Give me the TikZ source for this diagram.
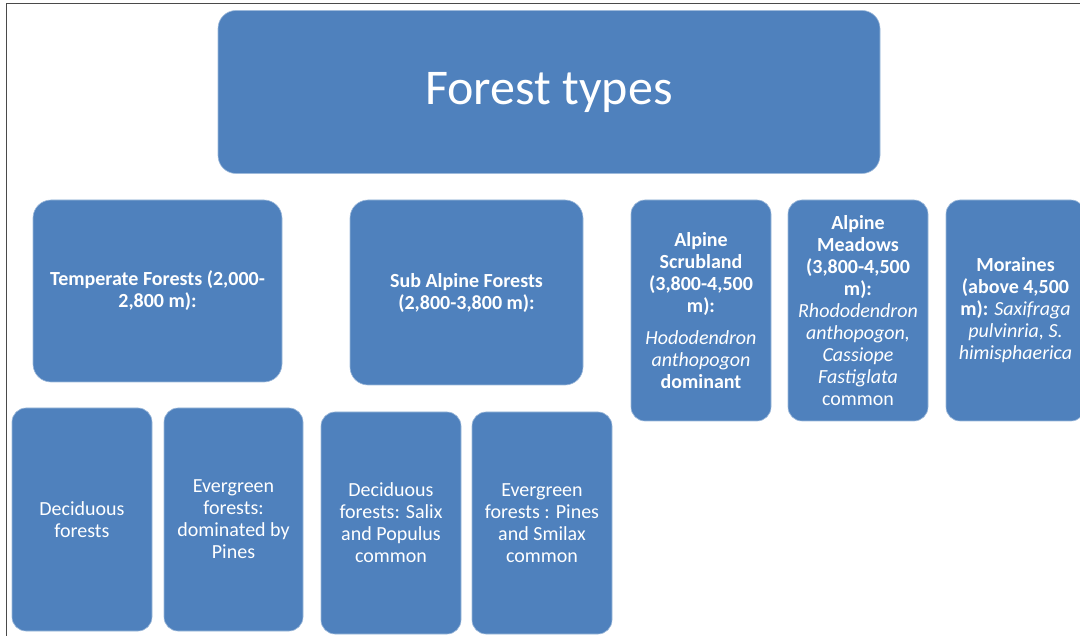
\documentclass[tikz,border=0pt]{standalone}
\usepackage{fontspec}
\setmainfont{Carlito}
\definecolor{boxblue}{HTML}{4F81BD}
\definecolor{frame}{HTML}{4A4A4A}
\begin{document}
\begin{tikzpicture}[x=1pt,y=-1pt,
  box/.style={draw=boxblue!55!white, line width=0.6pt, fill=boxblue,
    rounded corners=14pt, text=white, align=center, inner sep=0pt,
    font=\fontsize{20}{22}\selectfont},
  bigbox/.style={box, rounded corners=18pt}]
\useasboundingbox (0,0) rectangle (1080,636);
\fill[white] (0,0) rectangle (1080,636);
% page frame
\draw[frame, line width=1.6pt] (6.5,636) -- (6.5,3.5) -- (1080,3.5);

% title
\node[bigbox, minimum width=662pt, minimum height=163pt,
      font=\fontsize{50}{58}\selectfont] (title) at (549,92) {Forest types};

% altitude zones
\node[bigbox, minimum width=249pt, minimum height=182pt] (temp) at (157.5,291)
  {\bfseries Temperate Forests (2,000-\\\bfseries 2,800 m):};
\node[bigbox, minimum width=233pt, minimum height=185pt] (sub) at (466.5,292.5)
  {\bfseries Sub Alpine Forests\\\bfseries (2,800-3,800 m):};
\node[box, minimum width=140pt, minimum height=221pt] (scrub) at (701,310.5)
  {\bfseries Alpine\\\bfseries Scrubland\\\bfseries (3,800-4,500\\\bfseries m):\\[10pt]
   \itshape Hododendron\\\itshape anthopogon\\\bfseries dominant};
\node[box, minimum width=140pt, minimum height=221pt] (meadow) at (858,310.5)
  {\bfseries Alpine\\\bfseries Meadows\\\bfseries (3,800-4,500\\\bfseries m):\\
   \itshape Rhododendron\\\itshape anthopogon,\\\itshape Cassiope\\\itshape Fastiglata\\common};
\node[box, minimum width=139pt, minimum height=221pt] (moraine) at (1015.5,310.5)
  {\bfseries Moraines\\\bfseries (above 4,500\\\textbf{m):} \textit{Saxifraga}\\
   \itshape pulvinria, S.\\\itshape himisphaerica};

% forest sub-types
\node[box, minimum width=140pt, minimum height=223pt] (dec1) at (82,519.5)
  {Deciduous\\forests};
\node[box, minimum width=139pt, minimum height=223pt] (ever1) at (233.5,519.5)
  {Evergreen\\forests:\\dominated by\\Pines};
\node[box, minimum width=140pt, minimum height=222pt] (dec2) at (391,523)
  {Deciduous\\forests: Salix\\and Populus\\common};
\node[box, minimum width=140pt, minimum height=222pt] (ever2) at (542,523)
  {Evergreen\\forests : Pines\\and Smilax\\common};
\end{tikzpicture}
\end{document}
